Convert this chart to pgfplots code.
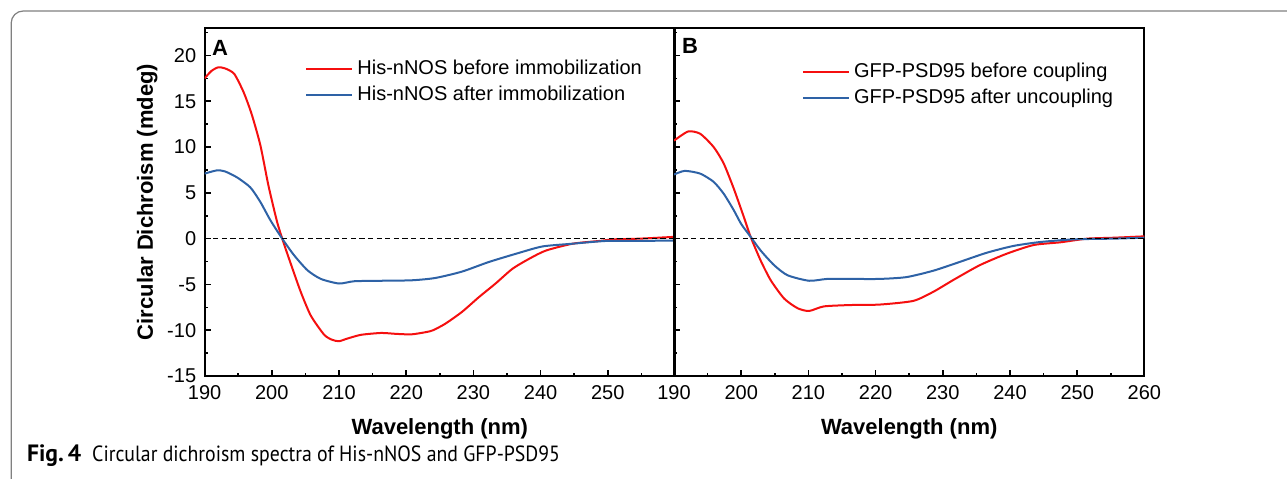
\documentclass[border=0pt]{standalone}
\usepackage{fontspec}
\setmainfont{Liberation Sans}
\newfontfamily\capfont{PT Sans}
\usepackage{graphicx}
\usepackage{pgfplots}
\pgfplotsset{compat=1.18}
\definecolor{cdred}{RGB}{245,15,15}
\definecolor{cdblue}{RGB}{46,98,166}
\definecolor{framegray}{RGB}{128,128,128}

\pgfplotstableread{
x y
190 17.5
191 18.3
192 18.7
193 18.6
194.4 18.0
195.8 16.0
197 13.6
198.3 10.2
199.5 5.8
200.8 1.8
201.8 -0.55
202.9 -2.9
204.3 -5.8
205.8 -8.4
207.8 -10.5
209 -11.05
210 -11.2
211.3 -10.9
213.3 -10.5
216.3 -10.3
218.5 -10.4
220.8 -10.45
223 -10.2
224 -10.0
225.8 -9.3
228.3 -8.0
230.8 -6.4
233.3 -4.9
235.8 -3.3
238.3 -2.2
240.8 -1.3
244.8 -0.55
248.8 -0.25
250.8 -0.08
254.8 0.0
260 0.2
}\redA

\pgfplotstableread{
x y
190 7.1
191.8 7.45
193 7.35
194.8 6.7
196.8 5.6
198.3 4.0
199.8 2.0
201.55 0
203.3 -1.8
205.3 -3.45
207.3 -4.4
210 -4.9
212.3 -4.65
216.3 -4.6
220.8 -4.55
224.3 -4.3
228.3 -3.6
232.3 -2.55
236.8 -1.55
240.3 -0.85
244.8 -0.55
249.8 -0.25
254.8 -0.25
260 -0.2
}\blueA

\pgfplotstableread{
x y
190 10.7
192.1 11.7
193.9 11.45
195.9 10.0
197.4 8.2
198.9 5.45
200.4 2.35
201.4 0.2
202.9 -2.4
204.4 -4.55
206.4 -6.55
208.4 -7.6
210.1 -7.9
212.3 -7.4
216.3 -7.25
220.6 -7.2
225.6 -6.8
228.6 -5.8
231.6 -4.5
235.5 -2.9
239.5 -1.65
243.5 -0.7
247.5 -0.4
251.5 0
255.4 0.1
260 0.25
}\redB

\pgfplotstableread{
x y
190 7.0
191.6 7.4
193.9 7.1
195.9 6.2
197.4 4.9
198.9 3.1
200.0 1.6
201.4 0.2
202.9 -1.3
204.9 -2.9
206.9 -4.0
210.1 -4.6
212.8 -4.4
216.3 -4.4
220.6 -4.4
224.6 -4.2
228.6 -3.5
232.1 -2.65
236.5 -1.55
240.5 -0.8
244.5 -0.37
249.5 -0.08
255.4 0
260 0.1
}\blueB

\pgfplotsset{cdaxis/.style={
  scale only axis, width=235.2pt, height=174pt,
  xmin=190, xmax=260, ymin=-15, ymax=23,
  axis line style={line width=1pt},
  tick style={black, line width=0.8pt},
  major tick length=3pt, minor tick length=1.5pt,
  tick align=inside,
  xtick={190,200,...,260}, minor xtick={195,205,...,255},
  ytick={-15,-10,...,20}, minor ytick={-12.5,-7.5,...,22.5},
  xtick pos=bottom, ytick pos=left,
  tick label style={font=\fontsize{10}{12}\selectfont},
  xticklabel style={yshift=-1.2pt},
  yticklabel style={xshift=-0.7pt},
  label style={font=\bfseries\fontsize{11}{13}\selectfont},
  xlabel={Wavelength (nm)},
  xlabel style={at={(axis description cs:0.5,-0.1667)}, anchor=base},
  legend style={draw=none, fill=none, inner sep=0pt, font=\fontsize{10}{12}\selectfont, cells={anchor=west}},
  legend image code/.code={\draw[#1] (0pt,0pt) -- (23pt,0pt);},
  every axis plot/.append style={line width=1pt},
}}

\begin{document}
\begin{tikzpicture}
\useasboundingbox (0,0) rectangle (643.5pt,239pt);
\begin{scope}
\clip (0,0) rectangle (643.5pt,239pt);
\draw[framegray, line width=0.6pt, rounded corners=6pt] (5.6pt,-3pt) -- (5.6pt,233.5pt) -- (660pt,233.5pt);
\end{scope}

\begin{axis}[cdaxis, at={(102.3pt,51pt)}, anchor=south west,
  xticklabels={190,200,210,220,230,240,250,{}},
  yticklabels={-15,-10,-5,0,5,10,15,20},
  ylabel={Circular Dichroism (mdeg)},
  ylabel style={at={(axis description cs:-0.1097,0.5)}, anchor=base, rotate=0},
  legend style={at={(0.2134,0.9195)}, anchor=north west},
]
\addplot[cdred, smooth, tension=0.4] table[x=x,y=y] {\redA};
\addlegendentry{His-nNOS before immobilization}
\addplot[cdblue, smooth, tension=0.4] table[x=x,y=y] {\blueA};
\addlegendentry{His-nNOS after immobilization}
\addplot[black, line width=0.5pt, dash pattern=on 2.6pt off 1.7pt, forget plot] coordinates {(190,0) (260,0)};
\node[anchor=base west, inner sep=0pt, font=\bfseries\fontsize{11}{13}\selectfont] at (rel axis cs:0.0151,0.9224) {A};
\end{axis}

\begin{axis}[cdaxis, at={(337pt,51pt)}, anchor=south west,
  xticklabels={190,200,210,220,230,240,250,260},
  yticklabels={},
  legend style={at={(0.2714,0.911)}, anchor=north west},
]
\addplot[cdred, smooth, tension=0.4] table[x=x,y=y] {\redB};
\addlegendentry{GFP-PSD95 before coupling}
\addplot[cdblue, smooth, tension=0.4] table[x=x,y=y] {\blueB};
\addlegendentry{GFP-PSD95 after uncoupling}
\addplot[black, line width=0.5pt, dash pattern=on 2.6pt off 1.7pt, forget plot] coordinates {(190,0) (260,0)};
\node[anchor=base west, inner sep=0pt, font=\bfseries\fontsize{11}{13}\selectfont] at (rel axis cs:0.0164,0.928) {B};
\end{axis}

\node[anchor=base west, inner sep=0pt, font=\capfont\fontsize{11}{13}\selectfont] at (13.35pt,8.5pt) {{\fontsize{11.8}{13}\selectfont\bfseries Fig.\,4}\hspace{5.5pt}\scalebox{0.9}[1]{Circular dichroism spectra of His-nNOS and GFP-PSD95}};
\end{tikzpicture}
\end{document}
